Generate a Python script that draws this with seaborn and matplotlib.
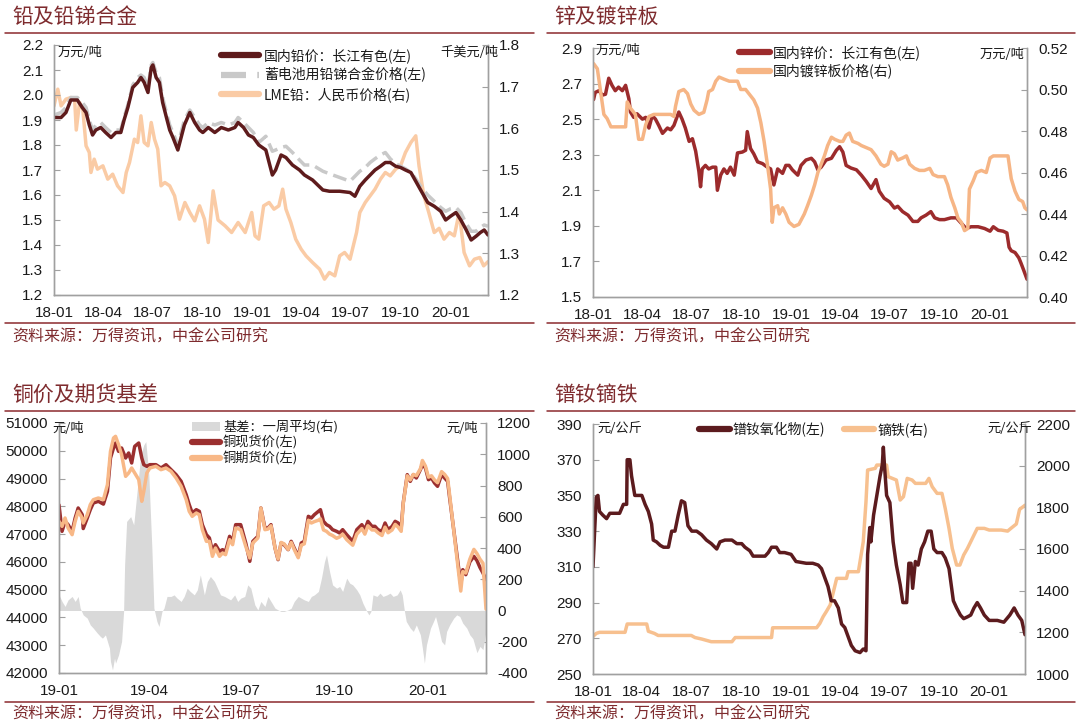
import matplotlib
matplotlib.use("Agg")
import matplotlib.pyplot as plt
import matplotlib.dates as mdates
from matplotlib.ticker import FixedLocator, FormatStrFormatter
from matplotlib.lines import Line2D
from matplotlib.patches import Patch
import numpy as np
import pandas as pd
import seaborn as sns

# ---------------- DATA ----------------
# Panel 1: lead
LEAD_DATES = ['2018-01-01','2018-01-14','2018-01-23','2018-02-01','2018-02-13','2018-02-22','2018-03-01','2018-03-07','2018-03-13','2018-03-19','2018-03-28','2018-04-06','2018-04-16','2018-04-25','2018-05-04','2018-05-10','2018-05-17','2018-05-26','2018-06-04','2018-06-10','2018-06-16','2018-06-23','2018-06-29','2018-07-02','2018-07-08','2018-07-14','2018-07-20','2018-07-27','2018-08-02','2018-08-08','2018-08-17','2018-08-23','2018-08-29','2018-09-08','2018-09-17','2018-09-26','2018-10-02','2018-10-12','2018-10-24','2018-11-05','2018-11-18','2018-11-30','2018-12-06','2018-12-16','2018-12-25','2019-01-03','2019-01-13','2019-01-26','2019-02-07','2019-02-13','2019-02-23','2019-03-04','2019-03-16','2019-03-29','2019-04-07','2019-04-22','2019-05-11','2019-05-23','2019-06-11','2019-06-30','2019-07-09','2019-07-18','2019-07-28','2019-08-06','2019-08-15','2019-08-25','2019-09-03','2019-09-12','2019-09-22','2019-10-01','2019-10-10','2019-10-20','2019-10-29','2019-11-07','2019-11-20','2019-12-02','2019-12-14','2019-12-23','2020-01-01','2020-01-11','2020-01-20','2020-01-30','2020-02-08','2020-02-17','2020-02-25','2020-03-03','2020-03-10']
LEAD_DOMESTIC = [1.91,1.91,1.93,1.98,1.98,1.95,1.93,1.88,1.84,1.86,1.87,1.85,1.83,1.85,1.85,1.90,1.95,2.03,2.05,2.07,2.05,2.01,2.11,2.12,2.07,2.05,1.97,1.91,1.86,1.83,1.78,1.83,1.88,1.93,1.89,1.86,1.85,1.87,1.85,1.87,1.86,1.87,1.89,1.87,1.84,
                 1.83,1.80,1.78,1.68,1.70,1.76,1.75,1.72,1.70,1.68,1.66,1.62,1.615,1.615,1.61,1.595,1.635,1.66,1.68,1.70,1.715,1.73,1.73,1.715,1.71,1.70,1.69,1.655,1.62,1.57,1.555,1.535,1.50,
                 1.515,1.53,1.50,1.46,1.42,1.435,1.45,1.46,1.44]
LEAD_ALLOY = [1.92,1.93,1.95,1.99,1.99,1.97,1.95,1.90,1.86,1.88,1.89,1.87,1.85,1.86,1.86,1.91,1.96,2.04,2.07,2.08,2.07,2.03,2.12,2.13,2.09,2.07,1.99,1.93,1.88,1.85,1.80,1.85,1.90,1.94,1.91,1.88,1.87,1.89,1.88,1.89,1.88,1.89,1.91,1.89,1.87,
              1.85,1.81,1.835,1.775,1.78,1.79,1.795,1.77,1.74,1.72,1.72,1.695,1.685,1.67,1.655,1.675,1.695,1.71,1.73,1.745,1.76,1.77,1.745,1.725,1.715,1.705,1.69,1.665,1.635,1.60,1.575,1.55,1.535,
              1.545,1.55,1.53,1.485,1.455,1.455,1.47,1.48,1.475]
LME_DATES = ['2018-01-01','2018-01-08','2018-01-14','2018-01-23','2018-02-01','2018-02-08','2018-02-11','2018-02-17','2018-02-23','2018-03-01','2018-03-07','2018-03-10','2018-03-16','2018-03-22','2018-04-01','2018-04-10','2018-04-19','2018-04-28','2018-05-08','2018-05-14','2018-05-20','2018-05-29','2018-06-04','2018-06-10','2018-06-16','2018-06-23','2018-06-29','2018-07-05','2018-07-11','2018-07-17','2018-07-24','2018-08-02','2018-08-11','2018-08-20','2018-08-30','2018-09-08','2018-09-17','2018-09-26','2018-10-05','2018-10-12','2018-10-21','2018-10-30','2018-11-12','2018-11-24','2018-12-06','2018-12-19','2018-12-31','2019-01-06','2019-01-13','2019-01-22','2019-02-01','2019-02-10','2019-02-19','2019-02-26','2019-03-04','2019-03-13','2019-03-22','2019-04-01','2019-04-10','2019-04-22','2019-05-05','2019-05-14','2019-05-23','2019-06-02','2019-06-11','2019-06-20','2019-06-30','2019-07-12','2019-07-18','2019-07-28','2019-08-06','2019-08-15','2019-08-25','2019-09-03','2019-09-12','2019-09-22','2019-10-01','2019-10-10','2019-10-20','2019-10-29','2019-11-04','2019-11-13','2019-11-22','2019-12-02','2019-12-11','2019-12-20','2019-12-30','2020-01-08','2020-01-17','2020-01-26','2020-02-05','2020-02-14','2020-02-24','2020-03-02','2020-03-10']
LME_LEAD_CNY = [1.654,1.694,1.654,1.67,1.674,1.67,1.596,1.662,1.646,1.558,1.542,1.494,1.526,1.502,1.51,1.478,1.49,1.462,1.446,1.494,1.518,1.574,1.566,1.63,1.566,1.558,1.614,1.574,1.55,1.462,1.47,1.462,1.438,1.382,1.422,1.398,1.378,1.414,1.382,1.326,1.45,1.38,1.366,1.35,1.374,1.35,1.398,
                1.342,1.334,1.414,1.422,1.406,1.414,1.454,1.406,1.374,1.334,1.31,1.294,1.278,1.262,1.238,1.254,1.246,1.294,1.302,1.286,1.35,1.398,1.422,1.438,1.454,1.478,1.494,1.486,1.502,1.51,1.542,1.566,1.582,1.51,1.438,1.398,1.35,1.36,1.334,1.35,
                1.342,1.398,1.302,1.27,1.286,1.29,1.27,1.28]

# Panel 2: zinc
ZN_DATES = ['2018-01-02','2018-01-05','2018-01-12','2018-01-18','2018-01-24','2018-01-30','2018-02-05','2018-02-11','2018-02-17','2018-02-24','2018-03-02','2018-03-08','2018-03-11','2018-03-17','2018-03-23','2018-04-02','2018-04-08','2018-04-14','2018-04-20','2018-04-26','2018-05-02','2018-05-09','2018-05-18','2018-05-24','2018-05-30','2018-06-08','2018-06-14','2018-06-20','2018-06-27','2018-07-03','2018-07-09','2018-07-15','2018-07-18','2018-07-21','2018-07-27','2018-08-02','2018-08-09','2018-08-15','2018-08-18','2018-08-24','2018-08-30','2018-09-05','2018-09-11','2018-09-18','2018-09-24','2018-10-03','2018-10-09','2018-10-12','2018-10-18','2018-10-24','2018-10-31','2018-11-09','2018-11-18','2018-11-24','2018-11-30','2018-12-07','2018-12-16','2018-12-22','2018-12-28','2019-01-03','2019-01-13','2019-01-19','2019-01-28','2019-02-07','2019-02-13','2019-02-19','2019-02-25','2019-03-06','2019-03-16','2019-03-25','2019-03-31','2019-04-06','2019-04-12','2019-04-21','2019-05-01','2019-05-10','2019-05-19','2019-05-28','2019-06-06','2019-06-12','2019-06-21','2019-07-01','2019-07-10','2019-07-16','2019-07-25','2019-08-04','2019-08-13','2019-08-22','2019-08-28','2019-09-06','2019-09-15','2019-09-22','2019-10-01','2019-10-10','2019-10-22','2019-11-01','2019-11-10','2019-11-19','2019-11-28','2019-12-11','2019-12-23','2020-01-02','2020-01-08','2020-01-17','2020-01-26','2020-02-02','2020-02-06','2020-02-10','2020-02-17','2020-02-24','2020-02-28','2020-03-04','2020-03-10']
ZN_DOMESTIC = [2.61,2.65,2.66,2.635,2.64,2.73,2.69,2.66,2.68,2.66,2.69,2.615,2.54,2.51,2.53,2.50,2.51,2.45,2.52,2.50,2.465,2.42,2.45,2.44,2.465,2.54,2.50,2.45,2.375,2.39,2.32,2.205,2.12,2.22,2.24,2.22,2.23,2.23,2.10,2.185,2.22,2.195,2.23,2.185,2.31,2.315,2.325,2.43,2.335,2.305,2.26,2.25,2.23,2.22,2.13,2.22,2.195,2.24,2.24,
               2.215,2.185,2.24,2.27,2.28,2.26,2.215,2.23,2.27,2.28,2.325,2.345,2.315,2.24,2.225,2.215,2.185,2.15,2.11,2.16,2.095,2.055,2.035,2.00,2.01,1.98,1.96,1.925,1.925,1.945,1.96,1.98,1.945,1.935,1.935,1.945,1.945,1.915,1.885,1.895,1.895,1.885,
               1.87,1.895,1.875,1.87,1.86,1.78,1.76,1.75,1.72,1.69,1.65,1.60]
GALV_DATES = ['2018-01-02','2018-01-09','2018-01-15','2018-01-21','2018-01-27','2018-02-03','2018-02-12','2018-02-24','2018-03-02','2018-03-05','2018-03-11','2018-03-20','2018-03-26','2018-04-02','2018-04-08','2018-04-14','2018-04-23','2018-05-11','2018-05-24','2018-05-30','2018-06-02','2018-06-08','2018-06-17','2018-06-24','2018-06-30','2018-07-06','2018-07-15','2018-07-24','2018-07-30','2018-08-02','2018-08-09','2018-08-15','2018-08-21','2018-08-30','2018-09-09','2018-09-24','2018-09-30','2018-10-09','2018-10-15','2018-10-24','2018-10-31','2018-11-06','2018-11-12','2018-11-18','2018-11-24','2018-11-27','2018-11-30','2018-12-07','2018-12-10','2018-12-16','2018-12-22','2018-12-28','2019-01-06','2019-01-15','2019-01-25','2019-01-31','2019-02-07','2019-02-13','2019-02-19','2019-02-25','2019-03-03','2019-03-09','2019-03-16','2019-03-22','2019-03-31','2019-04-06','2019-04-12','2019-04-18','2019-04-24','2019-05-04','2019-05-10','2019-05-19','2019-05-28','2019-06-06','2019-06-15','2019-06-21','2019-06-28','2019-07-04','2019-07-10','2019-07-16','2019-07-25','2019-08-01','2019-08-07','2019-08-16','2019-08-25','2019-09-03','2019-09-13','2019-09-19','2019-09-28','2019-10-10','2019-10-16','2019-10-22','2019-10-29','2019-11-04','2019-11-10','2019-11-16','2019-11-22','2019-11-25','2019-12-02','2019-12-08','2019-12-17','2019-12-26','2020-01-02','2020-01-08','2020-01-17','2020-02-04','2020-02-10','2020-02-17','2020-02-24','2020-03-02','2020-03-06','2020-03-10']
GALV_SHEET = [0.5125,0.510,0.499,0.488,0.486,0.482,0.482,0.482,0.482,0.494,0.491,0.488,0.476,0.476,0.483,0.487,0.488,0.488,0.488,0.487,0.492,0.499,0.500,0.498,0.493,0.490,0.488,0.489,0.495,0.499,0.500,0.504,0.506,0.505,0.504,0.504,0.500,0.500,0.498,0.495,0.491,0.484,0.475,0.464,0.452,0.436,0.443,0.444,0.440,0.443,0.440,0.436,
              0.434,0.435,0.440,0.444,0.449,0.454,0.460,0.464,0.468,0.473,0.477,0.476,0.475,0.475,0.478,0.479,0.475,0.474,0.473,0.472,0.471,0.468,0.464,0.463,0.464,0.470,0.469,0.466,0.467,0.468,0.464,0.462,0.461,0.461,0.462,0.459,0.458,0.458,0.454,0.448,0.443,0.438,0.436,0.432,0.433,0.452,0.456,0.460,0.461,0.460,
              0.467,0.468,0.468,0.468,0.457,0.451,0.447,0.446,0.443,0.442]

# Panel 3: copper
CU_DATES = ['2019-01-01','2019-01-04','2019-01-07','2019-01-10','2019-01-14','2019-01-17','2019-01-20','2019-01-24','2019-01-25','2019-01-29','2019-02-01','2019-02-04','2019-02-09','2019-02-14','2019-02-18','2019-02-21','2019-02-24','2019-02-26','2019-03-01','2019-03-04','2019-03-08','2019-03-11','2019-03-14','2019-03-17','2019-03-21','2019-03-24','2019-03-26','2019-03-29','2019-04-01','2019-04-07','2019-04-12','2019-04-17','2019-04-22','2019-04-27','2019-05-02','2019-05-07','2019-05-10','2019-05-13','2019-05-17','2019-05-20','2019-05-23','2019-05-27','2019-05-30','2019-06-02','2019-06-05','2019-06-09','2019-06-12','2019-06-15','2019-06-19','2019-06-22','2019-06-25','2019-06-30','2019-07-05','2019-07-09','2019-07-12','2019-07-17','2019-07-20','2019-07-24',
            '2019-07-27','2019-07-30','2019-08-03','2019-08-06','2019-08-09','2019-08-12','2019-08-16','2019-08-19','2019-08-22','2019-08-26','2019-08-29','2019-09-01','2019-09-05','2019-09-08','2019-09-11','2019-09-15','2019-09-17','2019-09-20','2019-09-23','2019-09-26','2019-09-29','2019-10-03','2019-10-06','2019-10-09','2019-10-13','2019-10-16','2019-10-19','2019-10-23','2019-10-28','2019-10-31','2019-11-03','2019-11-07','2019-11-10','2019-11-13','2019-11-17','2019-11-20','2019-11-23','2019-11-27','2019-11-30','2019-12-03','2019-12-06','2019-12-08','2019-12-12','2019-12-15','2019-12-18','2019-12-21','2019-12-25','2019-12-27','2019-12-30','2020-01-02','2020-01-05','2020-01-08','2020-01-11','2020-01-15','2020-01-18','2020-01-21','2020-01-23','2020-02-03','2020-02-05','2020-02-08','2020-02-12','2020-02-16','2020-02-19','2020-02-22','2020-02-25','2020-02-28']
CU_SPOT = [48050,47100,47460,47340,47100,47580,47940,47700,47200,47580,47880,48120,48180,48080,48540,49740,50100,50280,49980,50100,49740,49920,49560,50160,50280,49740,49500,49440,49500,49500,49380,49500,49320,49140,48900,48420,48060,47760,47880,47820,47340,46980,46860,46380,46620,46380,46440,46380,46920,46740,47340,47340,46680,46020,46740,46920,47940,47220,
           47220,47340,46500,46080,46680,46620,46440,46740,46500,46200,46680,46740,47640,47580,47700,47820,47880,47460,47340,47280,47160,47100,47040,47160,46980,46860,46740,47160,47340,47160,47460,47280,47280,47160,47100,47400,47160,47280,47460,47400,47220,48120,49140,48900,49140,49020,49320,49500,49380,48960,49020,48840,48720,49140,49020,48900,48300,45180,45720,45540,46000,46200,46050,45800,45600,45350]
CU_FUTURES = [47460,47280,47580,47220,46980,47460,47820,47580,47400,47700,48060,48240,48300,48240,48780,49980,50460,50520,50220,49860,49080,49200,49380,49200,48960,48180,48540,49200,49380,49440,49320,49380,49260,49020,48720,48240,47820,47640,47760,47700,47160,46740,46740,46200,46500,46200,46320,46260,46800,46620,47220,47160,46560,46140,46680,46860,47940,47160,
              47180,47300,46500,46100,46700,46650,46450,46700,46450,46150,46600,46650,47500,47400,47450,47500,47550,47150,47100,47000,46950,46850,46900,47000,46800,46700,46600,47000,47200,47000,47300,47150,47150,47050,46950,47250,47050,47150,47350,47250,47100,48100,49100,48950,49150,49100,49350,49650,49450,49050,49100,48950,48850,49250,49150,49000,48400,44950,45650,45600,46100,46450,46300,46100,45950,44300]
BASIS_DATES = ['2019-01-01','2019-01-04','2019-01-07','2019-01-10','2019-01-14','2019-01-17','2019-01-20','2019-01-22','2019-01-25','2019-01-29','2019-02-01','2019-02-04','2019-02-08','2019-02-11','2019-02-13','2019-02-16','2019-02-20','2019-02-21','2019-02-23','2019-02-25','2019-02-26','2019-03-01','2019-03-04','2019-03-06','2019-03-07','2019-03-09','2019-03-13','2019-03-16','2019-03-19','2019-03-23','2019-03-26','2019-03-28','2019-03-31','2019-04-03','2019-04-05','2019-04-08','2019-04-10','2019-04-13','2019-04-15','2019-04-18','2019-04-22','2019-04-25','2019-04-28','2019-05-02','2019-05-05','2019-05-08','2019-05-11','2019-05-15','2019-05-18','2019-05-21','2019-05-25','2019-05-28','2019-05-31','2019-06-04','2019-06-07','2019-06-10','2019-06-14','2019-06-17','2019-06-20','2019-06-24','2019-06-27','2019-06-30','2019-07-04','2019-07-07','2019-07-10','2019-07-14','2019-07-17','2019-07-20','2019-07-24',
               '2019-07-27','2019-07-30','2019-08-03','2019-08-06','2019-08-09','2019-08-12','2019-08-16','2019-08-19','2019-08-22','2019-08-26','2019-08-29','2019-09-01','2019-09-05','2019-09-08','2019-09-11','2019-09-15','2019-09-18','2019-09-21','2019-09-23','2019-09-26','2019-09-29','2019-10-03','2019-10-06','2019-10-09','2019-10-13','2019-10-16','2019-10-19','2019-10-23','2019-10-26','2019-10-29','2019-11-02','2019-11-04','2019-11-06','2019-11-08','2019-11-12','2019-11-15','2019-11-18','2019-11-22','2019-11-25','2019-11-28','2019-12-02','2019-12-05','2019-12-07','2019-12-09','2019-12-11','2019-12-15','2019-12-18','2019-12-21','2019-12-25','2019-12-27','2019-12-29','2019-12-31','2020-01-04','2020-01-07','2020-01-09','2020-01-12','2020-01-15','2020-01-18','2020-01-20','2020-01-23','2020-01-27','2020-01-30','2020-02-02','2020-02-05','2020-02-09','2020-02-12','2020-02-15','2020-02-19','2020-02-22','2020-02-25','2020-02-28']
BASIS_WEEKLY = [100,58,26,68,90,58,90,15,-28,-49,-92,-113,-145,-166,-177,-156,-241,-326,-380,-305,-337,-284,-198,-6,292,570,601,548,740,996,1060,1081,868,399,15,-70,-102,-6,15,90,90,100,79,58,90,143,122,100,132,228,100,186,218,186,143,100,90,79,68,100,58,79,90,164,143,36,4,58,26,
                90,58,15,4,-6,-6,4,15,58,90,79,68,58,90,100,122,207,313,356,250,164,143,154,122,207,175,164,132,100,47,-6,-28,-6,100,90,111,90,100,111,90,100,132,100,4,-70,-113,-134,-92,-156,-241,-337,-220,-113,-70,-38,-113,-198,-220,-134,-92,-49,-28,-38,-81,-113,-156,-180,-270,-230,-250,-130]

# Panel 4: rare earth
PRND_DATES = ['2018-01-01','2018-01-04','2018-01-07','2018-01-10','2018-01-13','2018-01-19','2018-01-26','2018-02-01','2018-02-10','2018-02-19','2018-02-26','2018-03-04','2018-03-05','2018-03-10','2018-03-13','2018-03-19','2018-04-01','2018-04-07','2018-04-13','2018-04-19','2018-04-22','2018-04-28','2018-05-05','2018-05-11','2018-05-20','2018-05-26','2018-06-01','2018-06-07','2018-06-13','2018-06-19','2018-06-25','2018-07-02','2018-07-11','2018-07-20','2018-07-29','2018-08-07','2018-08-17','2018-08-23','2018-09-01','2018-09-14','2018-09-23','2018-10-02','2018-10-08','2018-10-17','2018-10-23','2018-11-02','2018-11-14','2018-11-20','2018-11-26','2018-12-05','2018-12-11','2018-12-20','2019-01-01','2019-01-10','2019-01-29','2019-02-10','2019-02-20','2019-02-26','2019-03-04','2019-03-10','2019-03-16','2019-03-22','2019-03-29','2019-04-04','2019-04-10','2019-04-16','2019-04-22','2019-04-29','2019-05-08','2019-05-14','2019-05-19','2019-05-22','2019-05-26','2019-05-28','2019-06-02','2019-06-08','2019-06-14','2019-06-18','2019-06-20','2019-06-22','2019-06-26','2019-07-02','2019-07-08','2019-07-14','2019-07-21','2019-07-26','2019-08-02','2019-08-06','2019-08-10','2019-08-13','2019-08-18','2019-08-23','2019-08-29','2019-09-04','2019-09-10','2019-09-16','2019-09-21','2019-09-27','2019-10-06','2019-10-12','2019-10-19','2019-10-23','2019-10-27','2019-11-02','2019-11-09','2019-11-15','2019-11-22','2019-11-28','2019-12-04','2019-12-10','2019-12-16','2019-12-23','2020-01-01','2020-01-16','2020-01-28','2020-02-08','2020-02-16','2020-02-23','2020-03-01','2020-03-07']
PRND_OXIDE = [310,330,349,350,341,339,337,340,340,340,345,345,370,370,361,350,350,345,341,334,325,324,322,321,321,330,330,339,347,346,333,330,330,328,325,323,320,324,325,325,323,323,321,319,316,316,316,318,321,321,318,318,
              317,313,312,312,311,309,304,299,291,291,287,278,276,271,266,263,262,264,263,317,332,324,339,350,361,367,377,367,350,346,324,311,300,290,290,312,312,298,313,311,320,324,330,330,320,318,318,315,309,300,291,287,283,281,282,283,287,290,287,283,
              280,280,279,283,287,283,280,272]
DYFE_DATES = ['2018-01-01','2018-01-07','2018-01-13','2018-03-01','2018-03-05','2018-04-10','2018-04-13','2018-04-24','2018-05-01','2018-07-01','2018-07-08','2018-07-20','2018-08-07','2018-09-14','2018-09-20','2018-11-26','2018-11-28','2019-02-17','2019-02-23','2019-03-01','2019-03-07','2019-03-14','2019-03-20','2019-03-26','2019-04-13','2019-04-16','2019-05-05','2019-05-08','2019-05-14','2019-05-19','2019-05-22','2019-06-05','2019-06-08','2019-06-26','2019-06-29','2019-07-14','2019-07-21','2019-07-27','2019-08-03','2019-08-12','2019-08-18','2019-09-06','2019-09-12','2019-09-18','2019-09-27','2019-10-06','2019-10-12','2019-10-19','2019-10-25','2019-11-02','2019-11-08','2019-11-15','2019-11-22','2019-12-01','2019-12-10','2019-12-23','2020-01-01','2020-01-23','2020-02-04','2020-02-10','2020-02-20','2020-02-26','2020-03-02','2020-03-07']
DY_FE = [1180,1195,1200,1200,1240,1240,1205,1195,1185,1185,1175,1168,1155,1155,1175,1175,1222,1222,1243,1275,1300,1331,1395,1459,1459,1491,1491,1539,1635,1827,1979,1987,2003,2003,1947,1931,1835,1851,1939,1931,1915,1915,1939,1899,1867,1867,1795,1699,1603,1523,1523,1571,1603,1651,1699,1699,1691,1691,1686,1699,1720,1790,1800,1810]

# ---------------- STYLE ----------------
sns.set_style("white")
plt.rcParams['font.family'] = ['Liberation Sans', 'Noto Sans CJK SC', 'DejaVu Sans']
plt.rcParams['axes.unicode_minus'] = False
CJK = ['Noto Sans CJK SC', 'DejaVu Sans']

W, H = 1080, 725
TITLE_C = '#7E2B2E'
RULE_C = '#8C2A2E'
SPINE_C = '#A0A0A0'
TXT_C = '#1a1a1a'
LW = 2.5

fig = plt.figure(figsize=(W / 100, H / 100), dpi=100)
fig.patch.set_facecolor('white')


def fx(x):
    return x / W


def fy(y):
    return 1 - y / H


def axes_px(l, t, r, b):
    ax = fig.add_axes([fx(l), fy(b), (r - l) / W, (b - t) / H])
    ax2 = ax.twinx()
    ax.set_zorder(ax2.get_zorder() + 1)
    ax.patch.set_visible(False)
    return ax, ax2


def style_axes(ax, ax2, xlim, ylim, ylim2, yticks, yticks2, fmt, fmt2):
    for a in (ax, ax2):
        for s in a.spines.values():
            s.set_color(SPINE_C)
            s.set_linewidth(1.0)
        a.spines['top'].set_visible(False)
        a.grid(False)
        a.set_xlabel('')
        a.set_ylabel('')
    ax.set_xlim(pd.Timestamp(xlim[0]), pd.Timestamp(xlim[1]))
    ax.set_ylim(*ylim)
    ax2.set_ylim(*ylim2)
    ax.yaxis.set_major_locator(FixedLocator(yticks))
    ax2.yaxis.set_major_locator(FixedLocator(yticks2))
    ax.yaxis.set_major_formatter(FormatStrFormatter(fmt))
    ax2.yaxis.set_major_formatter(FormatStrFormatter(fmt2))
    ax.xaxis.set_major_locator(mdates.MonthLocator(bymonth=[1, 4, 7, 10]))
    ax.xaxis.set_major_formatter(mdates.DateFormatter('%y-%m'))
    ax.tick_params(axis='y', direction='in', length=4, color=SPINE_C, labelsize=11, pad=8, labelcolor=TXT_C)
    ax.tick_params(axis='x', direction='in', length=4, color=SPINE_C, labelsize=11, pad=8, labelcolor=TXT_C)
    ax2.tick_params(axis='y', direction='in', length=4, color=SPINE_C, labelsize=11, pad=8, labelcolor=TXT_C)


def line(ax, dates, vals, color, lw=LW, dashes=None):
    sns.lineplot(x=pd.to_datetime(dates), y=vals, ax=ax, color=color, lw=lw, legend=False,
                 estimator=None, sort=False)
    ln = ax.lines[-1]
    if dashes is not None:
        ln.set_dashes(dashes)
    return ln


def frame_text(x0, x1, title, y_title, y_rule, y_rule2, y_src):
    fig.text(fx(x0 + 7), fy(y_title), title, fontsize=15, color=TITLE_C, va='center', ha='left', family=CJK)
    fig.add_artist(Line2D([fx(x0), fx(x1)], [fy(y_rule)] * 2, color=RULE_C, lw=1.1))
    fig.add_artist(Line2D([fx(x0), fx(x1)], [fy(y_rule2)] * 2, color=RULE_C, lw=1.1))
    fig.text(fx(x0 + 7), fy(y_src), '资料来源：万得资讯，中金公司研究', fontsize=11.5, color=TITLE_C,
             va='center', ha='left', family=CJK)


def unit(x, y, s, ha='left'):
    fig.text(fx(x), fy(y), s, fontsize=9.5, color=TXT_C, va='center', ha=ha, family=CJK)


def legend(ax, handles, labels, x, y, ncol=1, hl=2.7, spacing=0.25, colsp=1.4, size=10, tp=0.4):
    lg = ax.legend(handles, labels, loc='upper left', bbox_to_anchor=(fx(x), fy(y)),
                   bbox_transform=fig.transFigure, frameon=False, ncol=ncol,
                   prop={'family': CJK, 'size': size}, handlelength=hl, handletextpad=tp,
                   borderpad=0, borderaxespad=0, labelspacing=spacing, columnspacing=colsp)
    for t in lg.get_texts():
        t.set_color(TXT_C)
    return lg


# ---------------- PANEL 1: lead ----------------
ax, ax2 = axes_px(54, 45, 488, 295)
LEAD_C, ALLOY_C, LME_C = '#5E1B1C', '#C9C9C9', '#FACBA5'
line(ax2, LME_DATES, LME_LEAD_CNY, LME_C)
line(ax, LEAD_DATES, LEAD_ALLOY, ALLOY_C, dashes=[4, 1.8])
line(ax, LEAD_DATES, LEAD_DOMESTIC, LEAD_C)
style_axes(ax, ax2, ('2018-01-01', '2020-03-10'), (1.2, 2.2), (1.2, 1.8),
           np.round(np.arange(1.2, 2.21, 0.1), 1), np.round(np.arange(1.2, 1.81, 0.1), 1), '%.1f', '%.1f')
h = [Line2D([], [], color=LEAD_C, lw=4.5), Line2D([], [], color=ALLOY_C, lw=4.5, dashes=[4, 1.8]),
     Line2D([], [], color=LME_C, lw=4.5)]
legend(ax, h, ['国内铅价：长江有色(左)', '蓄电池用铅锑合金价格(左)', 'LME铅：人民币价格(右)'], 221, 48, hl=2.7, spacing=0.33)
unit(58, 52, '万元/吨')
unit(498, 52, '千美元/吨', ha='right')
frame_text(5, 534, '铅及铅锑合金', 17, 33, 323, 337)

# ---------------- PANEL 2: zinc ----------------
ax, ax2 = axes_px(593, 48, 1027, 297)
ZN_C, GALV_C = '#9C2B2C', '#F6B585'
line(ax, ZN_DATES, ZN_DOMESTIC, ZN_C)
line(ax2, GALV_DATES, GALV_SHEET, GALV_C)
ax.set_zorder(ax2.get_zorder() - 1)
ax2.patch.set_visible(False)
ax.patch.set_visible(True)
style_axes(ax, ax2, ('2018-01-01', '2020-03-10'), (1.5, 2.9), (0.40, 0.52),
           np.round(np.arange(1.5, 2.91, 0.2), 1), np.round(np.arange(0.40, 0.521, 0.02), 2), '%.1f', '%.2f')
h = [Line2D([], [], color=ZN_C, lw=4.5), Line2D([], [], color=GALV_C, lw=4.5)]
legend(ax2, h, ['国内锌价：长江有色(左)', '国内镀锌板价格(右)'], 739, 45, hl=2.2, spacing=0.28, tp=0.25)
unit(596, 50, '万元/吨')
unit(1024, 55, '万元/吨', ha='right')
frame_text(547, 1075, '锌及镀锌板', 17, 33, 323, 337)

# ---------------- PANEL 3: copper ----------------
ax, ax2 = axes_px(59, 423, 486, 673)
SPOT_C, FUT_C, BASIS_C = '#9B2F2F', '#F8B887', '#D9D9D9'
ax2.fill_between(pd.to_datetime(BASIS_DATES), 0, BASIS_WEEKLY, color=BASIS_C, lw=0)
line(ax, CU_DATES, CU_SPOT, SPOT_C)
line(ax, CU_DATES, CU_FUTURES, FUT_C)
style_axes(ax, ax2, ('2019-01-01', '2020-02-28'), (42000, 51000), (-400, 1200),
           np.arange(42000, 51001, 1000), np.arange(-400, 1201, 200), '%d', '%d')
h = [Patch(facecolor=BASIS_C, edgecolor='none'), Line2D([], [], color=SPOT_C, lw=4.5), Line2D([], [], color=FUT_C, lw=4.5)]
legend(ax, h, ['基差：一周平均(右)', '铜现货价(左)', '铜期货价(左)'], 192, 420, hl=2.1, spacing=0.12, size=9.5, tp=0.25)
unit(52, 428, '元/吨')
unit(478, 428, '元/吨', ha='right')
frame_text(5, 534, '铜价及期货基差', 395, 411, 702, 714)

# ---------------- PANEL 4: rare earth ----------------
ax, ax2 = axes_px(593, 424, 1025, 674)
PRND_C, DYFE_C = '#5C1B1E', '#F7C08F'
line(ax2, DYFE_DATES, DY_FE, DYFE_C)
line(ax, PRND_DATES, PRND_OXIDE, PRND_C)
style_axes(ax, ax2, ('2018-01-01', '2020-03-07'), (250, 390), (1000, 2200),
           np.arange(250, 391, 20), np.arange(1000, 2201, 200), '%d', '%d')
h = [Line2D([], [], color=PRND_C, lw=4.5), Line2D([], [], color=DYFE_C, lw=4.5)]
legend(ax, h, ['镨钕氧化物(左)', '镝铁(右)'], 699, 422, ncol=2, hl=2.2, colsp=1.3, tp=0.25)
unit(597, 428, '元/公斤')
unit(1032, 428, '元/公斤', ha='right')
frame_text(547, 1075, '镨钕镝铁', 395, 411, 702, 714)

fig.savefig('out.png', dpi=100, facecolor='white')
